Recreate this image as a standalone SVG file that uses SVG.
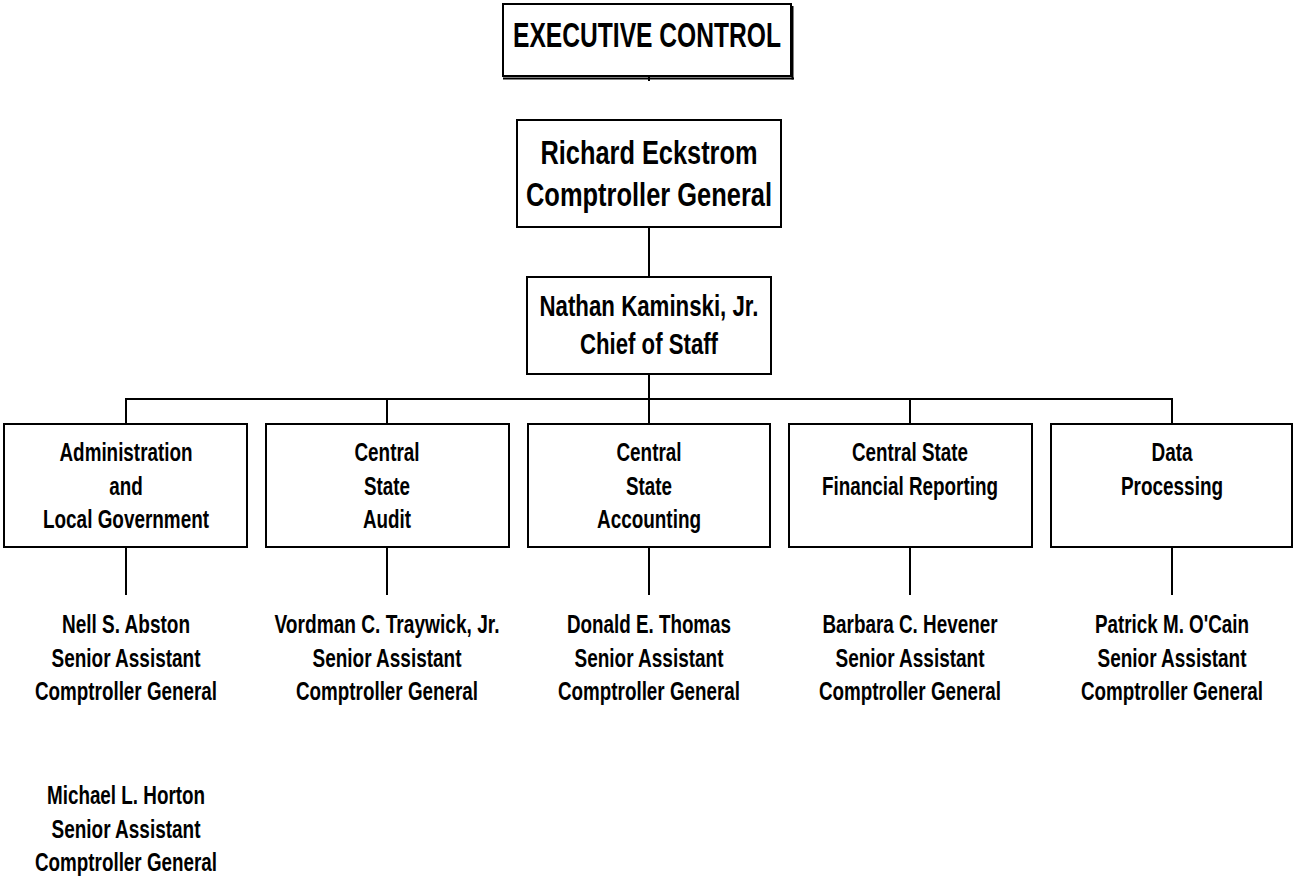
<svg xmlns="http://www.w3.org/2000/svg" width="1293" height="880" viewBox="0 0 1293 880">
<style>
.t{font-family:"Liberation Sans Narrow","Arial Narrow","Liberation Sans",Arial,sans-serif;font-weight:bold;fill:#000;text-anchor:middle}
.s23{font-size:25px}
.box{fill:#fff;stroke:#000;stroke-width:2}
.ln{stroke:#000;stroke-width:2;fill:none}
</style>
<rect width="1293" height="880" fill="#fff"/>
<g id="title">
<rect class="box" x="503" y="4" width="288" height="72"/>
<line class="ln" x1="792.5" y1="6" x2="792.5" y2="79.5" stroke-width="3"/>
<line class="ln" x1="503" y1="78.5" x2="794" y2="78.5" stroke-width="3"/>
<line class="ln" x1="649" y1="76" x2="649" y2="81" stroke-width="1"/>
<text class="t" x="647" y="47" font-size="35" textLength="268" lengthAdjust="spacingAndGlyphs">EXECUTIVE CONTROL</text>
</g>
<g id="connectors">
<line class="ln" x1="649" y1="227" x2="649" y2="277"/>
<line class="ln" x1="649" y1="374" x2="649" y2="424"/>
<line class="ln" x1="126" y1="399" x2="1172" y2="399"/>
<line class="ln" x1="126" y1="398" x2="126" y2="424"/>
<line class="ln" x1="387" y1="399" x2="387" y2="424"/>
<line class="ln" x1="910" y1="399" x2="910" y2="424"/>
<line class="ln" x1="1172" y1="398" x2="1172" y2="424"/>
<line class="ln" x1="126" y1="547" x2="126" y2="595"/>
<line class="ln" x1="387" y1="547" x2="387" y2="595"/>
<line class="ln" x1="649" y1="547" x2="649" y2="595"/>
<line class="ln" x1="910" y1="547" x2="910" y2="595"/>
<line class="ln" x1="1172" y1="547" x2="1172" y2="595"/>
</g>
<g id="comptroller">
<rect class="box" x="517" y="120" width="264" height="107"/>
<text class="t" x="649" y="164" font-size="33" textLength="217" lengthAdjust="spacingAndGlyphs">Richard Eckstrom</text>
<text class="t" x="649" y="206" font-size="33" textLength="246" lengthAdjust="spacingAndGlyphs">Comptroller General</text>
</g>
<g id="chief-of-staff">
<rect class="box" x="527" y="277" width="244" height="97"/>
<text class="t" x="649" y="316" font-size="29" textLength="219" lengthAdjust="spacingAndGlyphs">Nathan Kaminski, Jr.</text>
<text class="t" x="649" y="354" font-size="29" textLength="138" lengthAdjust="spacingAndGlyphs">Chief of Staff</text>
</g>
<g id="dept-admin">
<rect class="box" x="4" y="424" width="243" height="123"/>
<text class="t s23" x="126" y="461" textLength="133" lengthAdjust="spacingAndGlyphs">Administration</text>
<text class="t s23" x="126" y="494.5" textLength="33.5" lengthAdjust="spacingAndGlyphs">and</text>
<text class="t s23" x="126" y="528" textLength="166" lengthAdjust="spacingAndGlyphs">Local Government</text>
</g>
<g id="dept-audit">
<rect class="box" x="266" y="424" width="243" height="123"/>
<text class="t s23" x="387" y="461" textLength="65" lengthAdjust="spacingAndGlyphs">Central</text>
<text class="t s23" x="387" y="494.5" textLength="46" lengthAdjust="spacingAndGlyphs">State</text>
<text class="t s23" x="387" y="528" textLength="48" lengthAdjust="spacingAndGlyphs">Audit</text>
</g>
<g id="dept-accounting">
<rect class="box" x="528" y="424" width="242" height="123"/>
<text class="t s23" x="649" y="461" textLength="65" lengthAdjust="spacingAndGlyphs">Central</text>
<text class="t s23" x="649" y="494.5" textLength="46" lengthAdjust="spacingAndGlyphs">State</text>
<text class="t s23" x="649" y="528" textLength="104" lengthAdjust="spacingAndGlyphs">Accounting</text>
</g>
<g id="dept-reporting">
<rect class="box" x="789" y="424" width="243" height="123"/>
<text class="t s23" x="910" y="461" textLength="116" lengthAdjust="spacingAndGlyphs">Central State</text>
<text class="t s23" x="910" y="494.5" textLength="176" lengthAdjust="spacingAndGlyphs">Financial Reporting</text>
</g>
<g id="dept-data">
<rect class="box" x="1051" y="424" width="241" height="123"/>
<text class="t s23" x="1172" y="461" textLength="41" lengthAdjust="spacingAndGlyphs">Data</text>
<text class="t s23" x="1172" y="494.5" textLength="102" lengthAdjust="spacingAndGlyphs">Processing</text>
</g>
<g id="abston">
<text class="t s23" x="126" y="633" textLength="128" lengthAdjust="spacingAndGlyphs">Nell S. Abston</text>
<text class="t s23" x="126" y="666.5" textLength="149" lengthAdjust="spacingAndGlyphs">Senior Assistant</text>
<text class="t s23" x="126" y="700" textLength="182" lengthAdjust="spacingAndGlyphs">Comptroller General</text>
</g>
<g id="horton">
<text class="t s23" x="126" y="804" textLength="158" lengthAdjust="spacingAndGlyphs">Michael L. Horton</text>
<text class="t s23" x="126" y="837.5" textLength="149" lengthAdjust="spacingAndGlyphs">Senior Assistant</text>
<text class="t s23" x="126" y="871" textLength="182" lengthAdjust="spacingAndGlyphs">Comptroller General</text>
</g>
<g id="traywick">
<text class="t s23" x="387" y="633" textLength="225" lengthAdjust="spacingAndGlyphs">Vordman C. Traywick, Jr.</text>
<text class="t s23" x="387" y="666.5" textLength="149" lengthAdjust="spacingAndGlyphs">Senior Assistant</text>
<text class="t s23" x="387" y="700" textLength="182" lengthAdjust="spacingAndGlyphs">Comptroller General</text>
</g>
<g id="thomas">
<text class="t s23" x="649" y="633" textLength="164" lengthAdjust="spacingAndGlyphs">Donald E. Thomas</text>
<text class="t s23" x="649" y="666.5" textLength="149" lengthAdjust="spacingAndGlyphs">Senior Assistant</text>
<text class="t s23" x="649" y="700" textLength="182" lengthAdjust="spacingAndGlyphs">Comptroller General</text>
</g>
<g id="hevener">
<text class="t s23" x="910" y="633" textLength="175" lengthAdjust="spacingAndGlyphs">Barbara C. Hevener</text>
<text class="t s23" x="910" y="666.5" textLength="149" lengthAdjust="spacingAndGlyphs">Senior Assistant</text>
<text class="t s23" x="910" y="700" textLength="182" lengthAdjust="spacingAndGlyphs">Comptroller General</text>
</g>
<g id="ocain">
<text class="t s23" x="1172" y="633" textLength="154" lengthAdjust="spacingAndGlyphs">Patrick M. O'Cain</text>
<text class="t s23" x="1172" y="666.5" textLength="149" lengthAdjust="spacingAndGlyphs">Senior Assistant</text>
<text class="t s23" x="1172" y="700" textLength="182" lengthAdjust="spacingAndGlyphs">Comptroller General</text>
</g>
</svg>
